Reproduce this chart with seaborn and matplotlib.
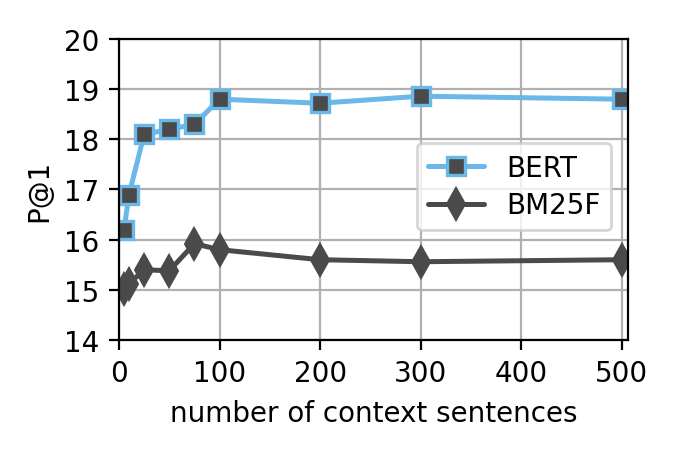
import pandas as pd
import matplotlib
matplotlib.use('Agg')
import matplotlib.pyplot as plt
import seaborn as sns

# values
context_sizes = [5, 10, 25, 50, 75, 100, 200, 300, 500]
bert_p1 = [16.2, 16.9, 18.1, 18.2, 18.3, 18.8, 18.72, 18.86, 18.8]
bm25f_p1 = [15.02, 15.12, 15.4, 15.38, 15.92, 15.8, 15.6, 15.56, 15.6]

df = pd.DataFrame({'n': context_sizes, 'BERT': bert_p1, 'BM25F': bm25f_p1})

sns.set_style('ticks')
plt.rcParams['font.family'] = ['DejaVu Sans']
plt.rcParams['font.size'] = 10
plt.rcParams['text.color'] = 'black'
plt.rcParams['axes.labelcolor'] = 'black'

fig, ax = plt.subplots(figsize=(3.39, 2.26), dpi=200)
fig.subplots_adjust(left=0.1755, right=0.926, top=0.9115, bottom=0.2456)

light_blue = '#6ab7ea'
dark_gray = '#4a4a4a'

sns.lineplot(data=df, x='n', y='BERT', ax=ax, color=light_blue, linewidth=1.8,
             marker='s', markersize=6.5, markerfacecolor=dark_gray,
             markeredgecolor=light_blue, markeredgewidth=1.2, label='BERT')
sns.lineplot(data=df, x='n', y='BM25F', ax=ax, color=dark_gray, linewidth=1.8,
             marker='d', markersize=8, markerfacecolor=dark_gray,
             markeredgecolor=dark_gray, label='BM25F')

ax.set_xlim(0, 506)
ax.set_ylim(14, 20)
ax.set_xticks([0, 100, 200, 300, 400, 500])
ax.set_yticks([14, 15, 16, 17, 18, 19, 20])
ax.grid(True, color='#b0b0b0', linewidth=0.8)
for s in ax.spines.values():
    s.set_color('black')
    s.set_linewidth(0.8)
ax.tick_params(direction='out', length=3.5, width=0.8, colors='black',
               labelsize=10)

ax.set_xlabel('number of context sentences')
ax.set_ylabel('P@1')
ax.legend(loc='center right', bbox_to_anchor=(0.995, 0.51), fontsize=10,
          labelspacing=0.35)

fig.savefig('out.png', dpi=200)
